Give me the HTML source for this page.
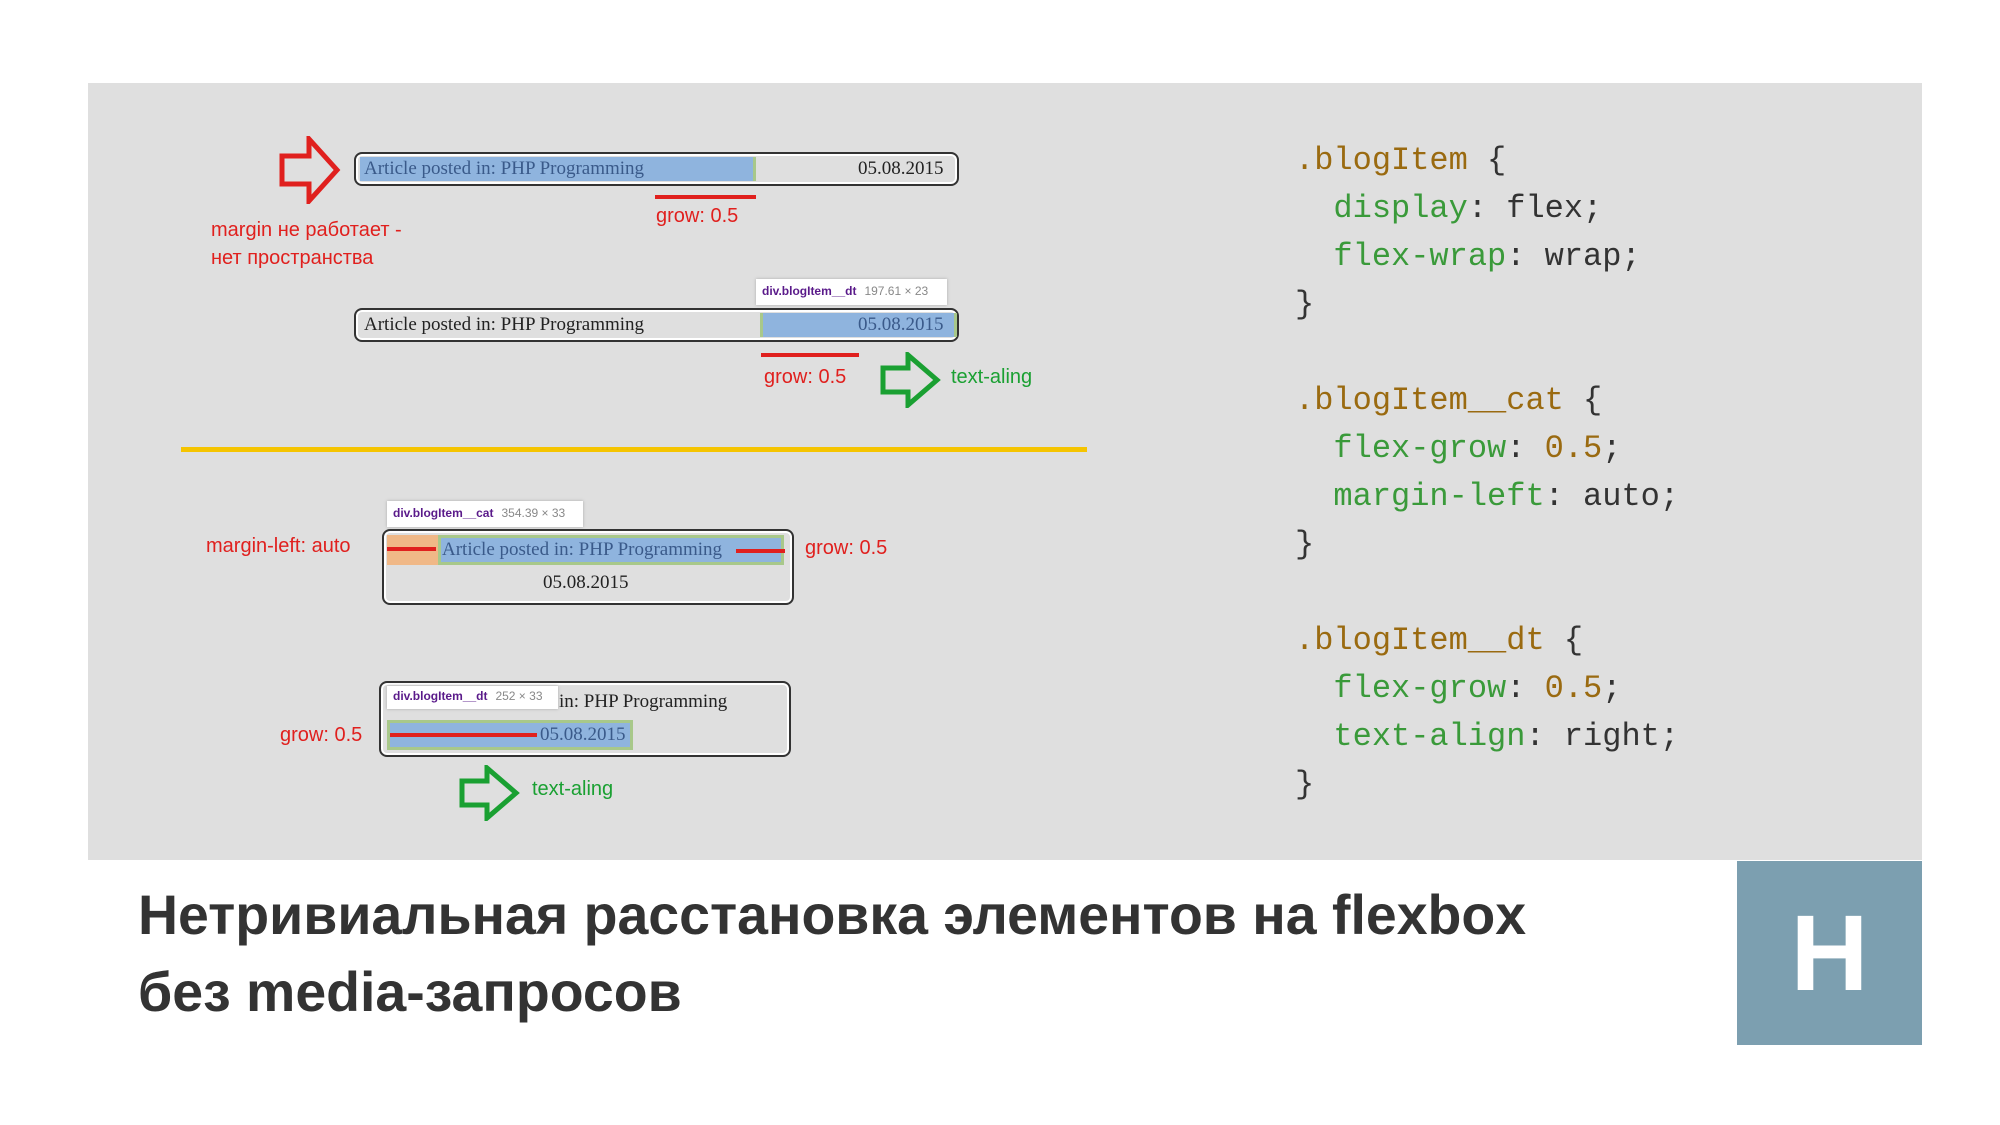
<!DOCTYPE html>
<html><head><meta charset="utf-8"><style>
body{margin:0;width:2000px;height:1125px;background:#fff;position:relative;overflow:hidden;font-family:"Liberation Sans",sans-serif}
.a{position:absolute;white-space:nowrap}
.panel{position:absolute;left:88px;top:83px;width:1834px;height:777px;background:#dfdfdf}
.box{position:absolute;border:2px solid #333;border-radius:8px;box-shadow:inset 0 0 0 2px #fff;background:transparent;box-sizing:border-box}
.serif{font-family:"Liberation Serif",serif;font-size:19px;color:#222}
.red{color:#e0201e;font-size:20px}
.grn{color:#1aa032;font-size:20px}
.rl{position:absolute;background:#e0201e;height:4px}
.blue{position:absolute;background:#8fb4de;border-right:3px solid #a8c88a}
.tip{position:absolute;background:#fff;font-size:12px;box-shadow:0 0 3px #aaa;box-sizing:border-box;padding:5px 6px;font-weight:bold;color:#5a1a8a}
.tip span{color:#888;font-weight:normal;margin-left:8px}
.code{font-family:"Liberation Mono",monospace;font-size:32px;color:#333;position:absolute;left:1295px;white-space:pre;line-height:48px}
.s{color:#9a6a10}.p{color:#3a9a3a}.n{color:#9a6a10}
</style></head><body>
<div class="panel"></div>

<svg class="a" style="left:279px;top:136px" width="62" height="68"><path d="M3 20 H30 V3 L58 34 L30 65 V48 H3 Z" fill="none" stroke="#e0201e" stroke-width="5"/></svg>
<div class="box" style="left:354px;top:152px;width:605px;height:34px"></div>
<div class="blue" style="left:360px;top:157px;width:393px;height:24px"></div>
<div class="a serif" style="left:364px;top:158px;color:#3a5a8a">Article posted in: PHP Programming</div>
<div class="a serif" style="left:858px;top:158px">05.08.2015</div>
<div class="rl" style="left:655px;top:195px;width:101px"></div>
<div class="a red" style="left:656px;top:205px">grow: 0.5</div>
<div class="a red" style="left:211px;top:219px">margin не работает -</div>
<div class="a red" style="left:211px;top:247px">нет пространства</div>

<div class="tip" style="left:756px;top:279px;width:191px;height:26px">div.blogItem__dt<span>197.61 × 23</span></div>
<div class="box" style="left:354px;top:308px;width:605px;height:34px"></div>
<div class="blue" style="left:760px;top:313px;width:191px;height:24px;border-left:3px solid #a8c88a"></div>
<div class="a serif" style="left:364px;top:314px">Article posted in: PHP Programming</div>
<div class="a serif" style="left:858px;top:314px;color:#3a5a8a">05.08.2015</div>
<div class="rl" style="left:761px;top:353px;width:98px"></div>
<div class="a red" style="left:764px;top:366px">grow: 0.5</div>
<svg class="a" style="left:880px;top:352px" width="62" height="56"><path d="M3 16 H28 V3 L57 28 L28 53 V40 H3 Z" fill="none" stroke="#1aa032" stroke-width="5"/></svg>
<div class="a grn" style="left:951px;top:366px">text-aling</div>

<div class="a" style="left:181px;top:447px;width:906px;height:5px;background:#f5c400"></div>

<div class="tip" style="left:387px;top:501px;width:196px;height:26px">div.blogItem__cat<span>354.39 × 33</span></div>
<div class="box" style="left:382px;top:529px;width:412px;height:76px"></div>
<div class="a" style="left:387px;top:535px;width:51px;height:30px;background:#f0b887"></div>
<div class="blue" style="left:438px;top:535px;width:346px;height:30px;border:3px solid #a8c88a;box-sizing:border-box"></div>
<div class="a serif" style="left:442px;top:539px;color:#3a5a8a">Article posted in: PHP Programming</div>
<div class="rl" style="left:387px;top:547px;width:49px"></div>
<div class="rl" style="left:736px;top:549px;width:49px"></div>
<div class="a serif" style="left:543px;top:572px">05.08.2015</div>
<div class="a red" style="left:206px;top:535px">margin-left: auto</div>
<div class="a red" style="left:805px;top:537px">grow: 0.5</div>

<div class="box" style="left:379px;top:681px;width:412px;height:76px"></div>
<div class="a serif" style="left:559px;top:691px">in: PHP Programming</div>
<div class="tip" style="left:387px;top:686px;width:171px;height:23px;padding:3px 6px">div.blogItem__dt<span>252 × 33</span></div>
<div class="blue" style="left:387px;top:720px;width:246px;height:30px;border:3px solid #a8c88a;box-sizing:border-box"></div>
<div class="rl" style="left:390px;top:733px;width:147px"></div>
<div class="a serif" style="left:540px;top:724px;color:#3a5a8a">05.08.2015</div>
<div class="a red" style="left:280px;top:724px">grow: 0.5</div>
<svg class="a" style="left:459px;top:765px" width="62" height="56"><path d="M3 16 H28 V3 L57 28 L28 53 V40 H3 Z" fill="none" stroke="#1aa032" stroke-width="5"/></svg>
<div class="a grn" style="left:532px;top:778px">text-aling</div>

<div class="code" style="top:137px"><span class="s">.blogItem</span> {
  <span class="p">display</span>: flex;
  <span class="p">flex-wrap</span>: wrap;
}</div>
<div class="code" style="top:377px"><span class="s">.blogItem__cat</span> {
  <span class="p">flex-grow</span>: <span class="n">0.5</span>;
  <span class="p">margin-left</span>: auto;
}</div>
<div class="code" style="top:617px"><span class="s">.blogItem__dt</span> {
  <span class="p">flex-grow</span>: <span class="n">0.5</span>;
  <span class="p">text-align</span>: right;
}</div>

<div class="a" style="left:138px;top:876px;font-size:56px;font-weight:bold;color:#333;line-height:77px;transform:scaleX(0.99);transform-origin:0 0">Нетривиальная расстановка элементов на flexbox<br>без media-запросов</div>

<div class="a" style="left:1737px;top:861px;width:185px;height:184px;background:#7c9fb0"></div>
<div class="a" style="left:1737px;top:861px;width:185px;height:184px;line-height:184px;text-align:center;color:#fff;font-weight:bold;font-size:108px">H</div>
</body></html>
